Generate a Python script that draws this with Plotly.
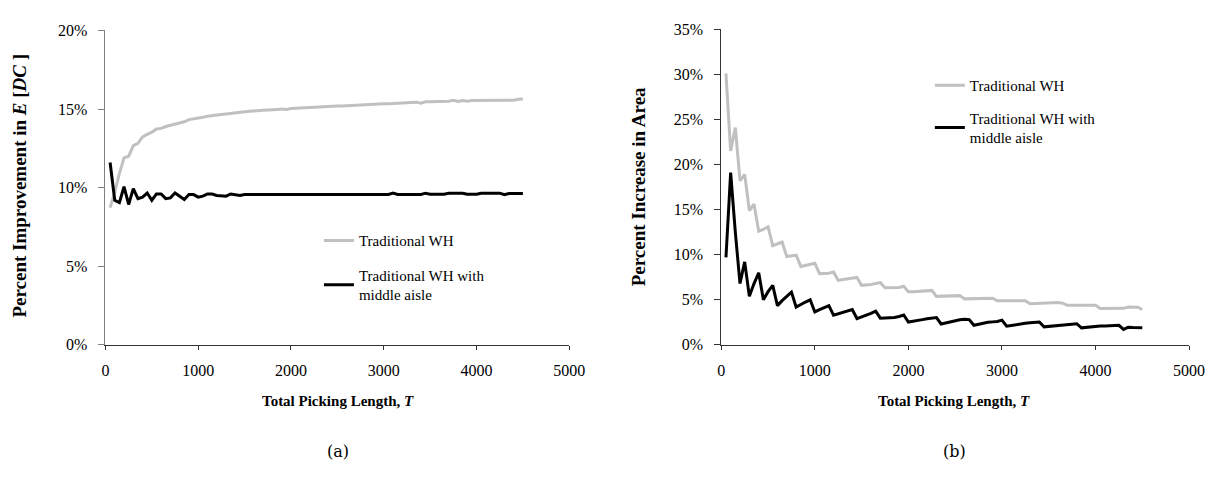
import plotly.graph_objects as go

T = list(range(50, 4501, 50))

left_trad = [
    8.73, 9.7, 10.9, 11.9, 12.0, 12.68, 12.82, 13.23, 13.39, 13.53,
    13.73, 13.77, 13.89, 13.97, 14.07, 14.13, 14.19, 14.33, 14.37, 14.42,
    14.48, 14.54, 14.6, 14.62, 14.66, 14.7, 14.74, 14.74, 14.78, 14.82,
    14.86, 14.88, 14.88, 14.92, 14.94, 14.94, 14.98, 15.0, 14.98, 15.04,
    15.06, 15.04, 15.08, 15.1, 15.1, 15.14, 15.16, 15.16, 15.18, 15.2,
    15.2, 15.22, 15.24, 15.24, 15.26, 15.3, 15.3, 15.3, 15.32, 15.34,
    15.34, 15.36, 15.38, 15.38, 15.38, 15.4, 15.44, 15.38, 15.46, 15.46,
    15.46, 15.48, 15.48, 15.5, 15.56, 15.48, 15.54, 15.5, 15.54, 15.55,
    15.55, 15.55, 15.55, 15.55, 15.55, 15.56, 15.56, 15.56, 15.62, 15.64,
]
left_mid = [
    11.6, 9.2, 9.05, 10.06, 8.93, 9.94, 9.3, 9.4, 9.66, 9.2,
    9.6, 9.6, 9.3, 9.35, 9.66, 9.46, 9.25, 9.56, 9.56, 9.4,
    9.46, 9.6, 9.6, 9.5, 9.5, 9.46, 9.6, 9.56, 9.5, 9.56,
    9.57, 9.57, 9.57, 9.57, 9.57, 9.57, 9.57, 9.57, 9.57, 9.57,
    9.57, 9.57, 9.57, 9.57, 9.57, 9.57, 9.57, 9.57, 9.57, 9.57,
    9.57, 9.57, 9.57, 9.57, 9.57, 9.57, 9.57, 9.57, 9.57, 9.57,
    9.57, 9.65, 9.57, 9.57, 9.57, 9.57, 9.57, 9.57, 9.65, 9.58,
    9.58, 9.58, 9.58, 9.65, 9.65, 9.65, 9.65, 9.58, 9.58, 9.58,
    9.65, 9.65, 9.65, 9.65, 9.65, 9.55, 9.63, 9.63, 9.63, 9.63,
]
right_trad = [
    30.1, 21.5, 24.1, 18.2, 18.9, 14.9, 15.6, 12.6, 12.8, 13.1,
    11.0, 11.2, 11.4, 9.8, 9.85, 9.95, 8.7, 8.8, 8.9, 9.05,
    7.9, 7.9, 7.95, 8.09, 7.15, 7.25, 7.3, 7.4, 7.48, 6.6,
    6.62, 6.7, 6.8, 6.9, 6.34, 6.34, 6.35, 6.36, 6.5, 5.88,
    5.9, 5.93, 5.96, 5.98, 6.04, 5.38, 5.4, 5.42, 5.44, 5.45,
    5.46, 5.1, 5.12, 5.13, 5.14, 5.15, 5.16, 5.17, 4.88, 4.88,
    4.88, 4.88, 4.89, 4.9, 4.9, 4.56, 4.57, 4.58, 4.6, 4.62,
    4.65, 4.7, 4.62, 4.38, 4.38, 4.38, 4.38, 4.38, 4.39, 4.4,
    4.03, 4.03, 4.03, 4.03, 4.03, 4.05, 4.2, 4.2, 4.18, 3.92,
]
right_mid = [
    9.7, 19.1, 12.5, 6.8, 9.2, 5.4, 6.8, 8.0, 5.0, 5.9,
    6.6, 4.35, 4.9, 5.4, 5.85, 4.2, 4.5, 4.75, 5.0, 3.65,
    3.9, 4.1, 4.35, 3.3, 3.45, 3.6, 3.75, 3.92, 2.92, 3.1,
    3.3, 3.5, 3.74, 2.96, 2.98, 3.0, 3.03, 3.15, 3.31, 2.53,
    2.6, 2.68, 2.8, 2.9, 2.97, 3.03, 2.32, 2.45, 2.55, 2.7,
    2.78, 2.85, 2.8, 2.17, 2.3, 2.4, 2.5, 2.55, 2.6, 2.74,
    2.07, 2.15, 2.25, 2.35, 2.4, 2.45, 2.5, 2.53, 2.0, 2.05,
    2.1, 2.15, 2.2, 2.25, 2.3, 2.35, 1.89, 1.95, 2.0, 2.05,
    2.08, 2.1, 2.12, 2.17, 2.17, 1.71, 1.96, 1.92, 1.9, 1.89,
]

x_ticks = [0, 1000, 2000, 3000, 4000, 5000]
left_y_ticks = [0, 5, 10, 15, 20]
right_y_ticks = [0, 5, 10, 15, 20, 25, 30, 35]
series_names = ["Traditional WH", "Traditional WH with<br>middle aisle"]

W, H = 1231, 478
SERIF = "Liberation Serif"
GREY = "#c0c0c0"
BLACK = "#000000"

fig = go.Figure()
fig.add_trace(go.Scatter(x=T, y=left_trad, mode="lines", name=series_names[0],
                         line=dict(color=GREY, width=3), xaxis="x", yaxis="y",
                         legend="legend", legendgroup="a1"))
fig.add_trace(go.Scatter(x=T, y=left_mid, mode="lines", name=series_names[1],
                         line=dict(color=BLACK, width=3), xaxis="x", yaxis="y",
                         legend="legend", legendgroup="a2"))
fig.add_trace(go.Scatter(x=T, y=right_trad, mode="lines", name=series_names[0],
                         line=dict(color=GREY, width=3), xaxis="x2", yaxis="y2",
                         legend="legend2", legendgroup="b1"))
fig.add_trace(go.Scatter(x=T, y=right_mid, mode="lines", name=series_names[1],
                         line=dict(color=BLACK, width=3), xaxis="x2", yaxis="y2",
                         legend="legend2", legendgroup="b2"))

def px(x):
    return x / W

def py(y):
    return 1 - y / H

tickfont = dict(family=SERIF, size=16, color="black")

common_x = dict(range=[0, 5000], tickvals=x_ticks, ticks="outside", ticklen=4,
                tickcolor="#333", showline=True, linecolor="#333", linewidth=1,
                showgrid=False, zeroline=False, tickfont=tickfont,
                ticklabelstandoff=7)
fig.update_layout(
    width=W, height=H, autosize=False,
    margin=dict(l=0, r=0, t=0, b=0),
    paper_bgcolor="white", plot_bgcolor="white",
    xaxis=dict(domain=[px(95), px(566.5)], anchor="y", **common_x),
    yaxis=dict(domain=[py(341), py(15)], anchor="x", range=[0, 20],
               tickvals=left_y_ticks, ticktext=[f"{v}%" for v in left_y_ticks],
               ticks="outside", ticklen=6, ticklabelstandoff=8,
               tickcolor="#808080", showline=True, linecolor="#808080", linewidth=1,
               showgrid=False, zeroline=False, tickfont=tickfont),
    xaxis2=dict(domain=[px(721), px(1196.5)], anchor="y2", **common_x),
    yaxis2=dict(domain=[py(341), py(13.7)], anchor="x2", range=[0, 35],
                tickvals=right_y_ticks, ticktext=[f"{v}%" for v in right_y_ticks],
                ticks="outside", ticklen=6, ticklabelstandoff=8,
                tickcolor="#333", showline=True, linecolor="#333", linewidth=1,
                showgrid=False, zeroline=False, tickfont=tickfont),
    legend=dict(x=px(312), y=py(216), xanchor="left", yanchor="top",
                font=dict(family=SERIF, size=15, color="black"),
                bgcolor="rgba(0,0,0,0)", tracegroupgap=12, traceorder="grouped",
                itemwidth=30),
    legend2=dict(x=px(933), y=py(55), xanchor="left", yanchor="top",
                 font=dict(family=SERIF, size=15, color="black"),
                 bgcolor="rgba(0,0,0,0)", tracegroupgap=10, traceorder="grouped",
                 itemwidth=30),
    showlegend=True,
)

ann_font = dict(family=SERIF, size=15, color="black")
ytitle_font = dict(family=SERIF, size=19, color="black")
annotations = [
    dict(text="<b>Total Picking Length, <i>T</i></b>", x=px(331), y=py(399),
         xref="paper", yref="paper", showarrow=False, font=ann_font,
         xanchor="center", yanchor="middle"),
    dict(text="<b>Total Picking Length, <i>T</i></b>", x=px(958), y=py(399),
         xref="paper", yref="paper", showarrow=False, font=ann_font,
         xanchor="center", yanchor="middle"),
    dict(text="<b>Percent Improvement in <i>E</i> [<i>DC</i> ]</b>", x=px(8), y=py(176),
         xref="paper", yref="paper", showarrow=False, font=ytitle_font, textangle=-90,
         xanchor="center", yanchor="middle"),
    dict(text="<b>Percent Increase in Area</b>", x=px(637), y=py(177),
         xref="paper", yref="paper", showarrow=False, font=ytitle_font, textangle=-90,
         xanchor="center", yanchor="middle"),
    dict(text="(a)", x=px(331), y=py(452), xref="paper", yref="paper", showarrow=False,
         font=dict(family="DejaVu Serif", size=16, color="black"),
         xanchor="center", yanchor="middle"),
    dict(text="(b)", x=px(958), y=py(452), xref="paper", yref="paper", showarrow=False,
         font=dict(family="DejaVu Serif", size=16, color="black"),
         xanchor="center", yanchor="middle"),
]
fig.update_layout(annotations=annotations)

fig.write_html("out.html")
